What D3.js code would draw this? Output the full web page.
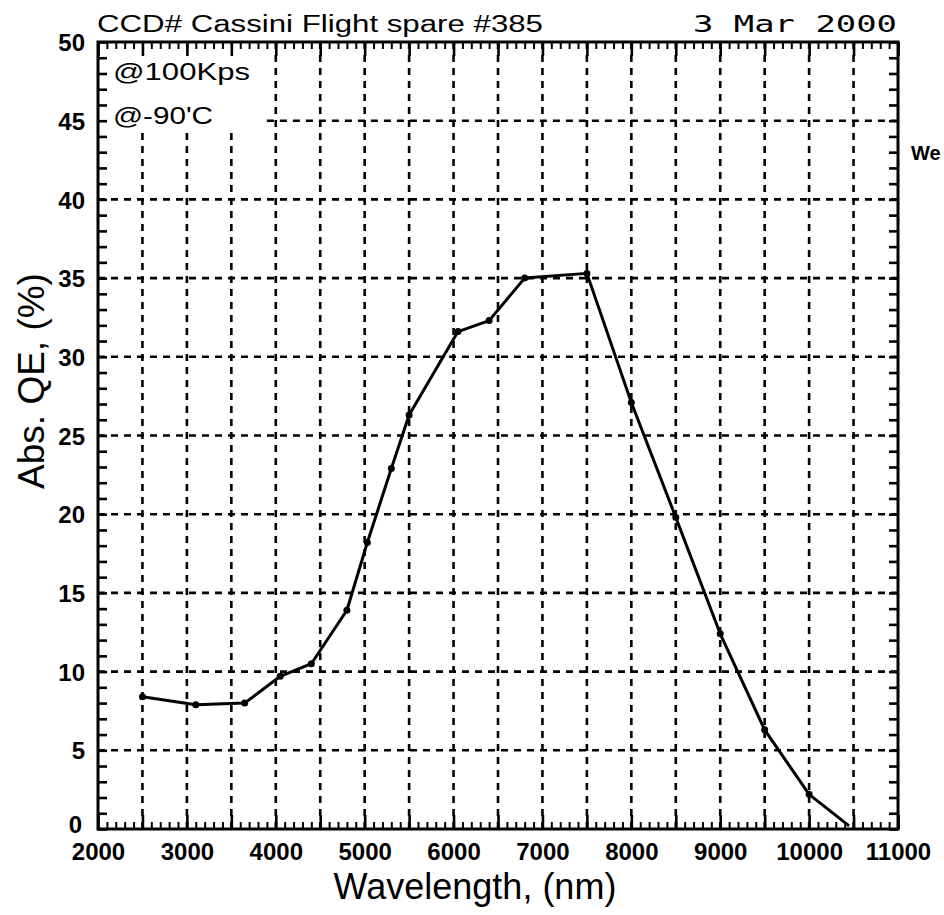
<!DOCTYPE html>
<html>
<head>
<meta charset="utf-8">
<script src="https://cdn.jsdelivr.net/npm/d3@7"></script>
<style>
  body { margin: 0; background: #fff; }
  svg { display: block; }
  .axis path { display: none; }
  .axis line { stroke: #000; }
</style>
</head>
<body>
<div id="chart"></div>
<script>
// wavelength (nm) and absolute QE (%)
const wavelengths = [2500, 3100, 3650, 4050, 4400, 4800, 5030, 5300, 5500, 6050, 6400, 6800, 7500, 8000, 8500, 9000, 9500, 10000, 10450];
const qe = [8.4, 7.9, 8.0, 9.7, 10.5, 13.9, 18.2, 22.9, 26.3, 31.6, 32.3, 35.0, 35.3, 27.1, 19.8, 12.4, 6.3, 2.2, 0.2];

const xTickLabels = [2000, 3000, 4000, 5000, 6000, 7000, 8000, 9000, 10000, 11000];
const yTickLabels = [0, 5, 10, 15, 20, 25, 30, 35, 40, 45, 50];
const xGrid = [2500, 3000, 3500, 4000, 4500, 5000, 5500, 6000, 6500, 7000, 7500, 8000, 8500, 9000, 9500, 10000, 10500];
const yGrid = [5, 10, 15, 20, 25, 30, 35, 40, 45];

const titleText = 'CCD# Cassini Flight spare #385';
const dateText = '3 Mar 2000';
const notes = ['@100Kps', "@-90'C"];

const W = 944, H = 915;
const PLOT = {LEFT: 98, RIGHT: 898, TOP: 42, BOTTOM: 829};

const svg = d3.select('#chart').append('svg')
    .attr('width', W)
    .attr('height', H);

svg.append('rect').attr('width', W).attr('height', H).attr('fill', '#fff');

const x = d3.scaleLinear().domain([2000, 11000]).range([PLOT.LEFT, PLOT.RIGHT]);
const y = d3.scaleLinear().domain([0, 50]).range([PLOT.BOTTOM, PLOT.TOP]);

// dashed grid
const grid = svg.append('g')
    .attr('stroke', '#000')
    .attr('stroke-width', 2.6)
    .attr('stroke-dasharray', '7,6');

grid.selectAll('line.h')
    .data(yGrid)
    .enter().append('line')
    .attr('class', 'h')
    .attr('x1', d => d === 45 ? x(3900) : PLOT.LEFT)
    .attr('x2', PLOT.RIGHT)
    .attr('y1', d => y(d))
    .attr('y2', d => y(d));

grid.selectAll('line.v')
    .data(xGrid)
    .enter().append('line')
    .attr('class', 'v')
    .attr('x1', d => x(d))
    .attr('x2', d => x(d))
    .attr('y1', PLOT.BOTTOM)
    .attr('y2', d => d < 4000 ? y(44.3) : PLOT.TOP);

// tick marks on all four sides
const minorX = d3.range(2000, 11001, 100);
const majorX = minorX.filter(d => d % 500 === 0);
const minorY = d3.range(0, 51, 1);

function tickGroup(axis, tx, ty, width) {
    const g = svg.append('g')
        .attr('class', 'axis')
        .attr('transform', `translate(${tx},${ty})`)
        .call(axis);
    g.selectAll('line').attr('stroke-width', width);
    g.selectAll('text').remove();
    return g;
}

tickGroup(d3.axisBottom(x).tickValues(minorX).tickSize(-7), 0, PLOT.BOTTOM, 2);
tickGroup(d3.axisBottom(x).tickValues(majorX).tickSize(-14), 0, PLOT.BOTTOM, 2.6);
tickGroup(d3.axisTop(x).tickValues(minorX).tickSize(-7), 0, PLOT.TOP, 2);
tickGroup(d3.axisTop(x).tickValues(majorX).tickSize(-14), 0, PLOT.TOP, 2.6);
tickGroup(d3.axisLeft(y).tickValues(minorY).tickSize(-9), PLOT.LEFT, 0, 2.6);
tickGroup(d3.axisRight(y).tickValues(minorY).tickSize(-9), PLOT.RIGHT, 0, 2.6);

// frame
svg.append('rect')
    .attr('x', PLOT.LEFT)
    .attr('y', PLOT.TOP)
    .attr('width', PLOT.RIGHT - PLOT.LEFT)
    .attr('height', PLOT.BOTTOM - PLOT.TOP)
    .attr('fill', 'none')
    .attr('stroke', '#000')
    .attr('stroke-width', 3);

// tick labels
const xLab = svg.append('g')
    .attr('transform', `translate(0,${PLOT.BOTTOM})`)
    .call(d3.axisBottom(x).tickValues(xTickLabels).tickSize(0).tickPadding(0).tickFormat(d3.format('d')));
xLab.select('.domain').remove();
xLab.selectAll('text')
    .attr('dy', null)
    .attr('y', 31)
    .attr('fill', '#000')
    .style('font-family', '"Liberation Sans", Arial, sans-serif')
    .style('font-weight', 'bold')
    .style('font-size', '24px');

const yLab = svg.append('g')
    .attr('transform', `translate(${PLOT.LEFT},0)`)
    .call(d3.axisLeft(y).tickValues(yTickLabels).tickSize(0).tickPadding(0));
yLab.select('.domain').remove();
yLab.selectAll('text')
    .attr('x', d => d === 0 ? -16 : -13)
    .attr('y', d => d === 0 ? -5 : 0)
    .attr('dy', '0.36em')
    .attr('fill', '#000')
    .style('font-family', '"Liberation Sans", Arial, sans-serif')
    .style('font-weight', 'bold')
    .style('font-size', '24px');

// the curve
const pts = wavelengths.map((w, i) => [w, qe[i]]);

svg.append('path')
    .datum(pts)
    .attr('fill', 'none')
    .attr('stroke', '#000')
    .attr('stroke-width', 3)
    .attr('stroke-linejoin', 'round')
    .attr('d', d3.line().x(d => x(d[0])).y(d => y(d[1])));

svg.selectAll('circle.pt')
    .data(pts.slice(0, pts.length - 1))
    .enter().append('circle')
    .attr('class', 'pt')
    .attr('cx', d => x(d[0]))
    .attr('cy', d => y(d[1]))
    .attr('r', 3.5)
    .attr('fill', '#000');

// texts
const sans = '"Liberation Sans", Arial, sans-serif';

svg.append('text')
    .attr('x', 97).attr('y', 32)
    .attr('textLength', 446).attr('lengthAdjust', 'spacingAndGlyphs')
    .style('font-family', sans).style('font-size', '23px')
    .text(titleText);

svg.append('text')
    .attr('x', 693).attr('y', 32)
    .attr('textLength', 204).attr('lengthAdjust', 'spacingAndGlyphs')
    .style('font-family', '"DejaVu Sans Mono", monospace').style('font-size', '23px')
    .text(dateText);

svg.selectAll('text.note')
    .data(notes)
    .enter().append('text')
    .attr('class', 'note')
    .attr('x', 113)
    .attr('y', (d, i) => 80 + i * 44)
    .attr('textLength', (d, i) => i === 0 ? 137 : 100)
    .attr('lengthAdjust', 'spacingAndGlyphs')
    .style('font-family', sans).style('font-size', '24px')
    .text(d => d);

svg.append('text')
    .attr('x', 911).attr('y', 160)
    .style('font-family', sans).style('font-weight', 'bold').style('font-size', '20px')
    .text('We');

svg.append('text')
    .attr('x', 475).attr('y', 899)
    .attr('text-anchor', 'middle')
    .style('font-family', sans).style('font-size', '36px')
    .text('Wavelength, (nm)');

svg.append('text')
    .attr('transform', 'translate(44,381) rotate(-90)')
    .attr('text-anchor', 'middle')
    .style('font-family', sans).style('font-size', '37px')
    .text('Abs. QE, (%)');
</script>
</body>
</html>
